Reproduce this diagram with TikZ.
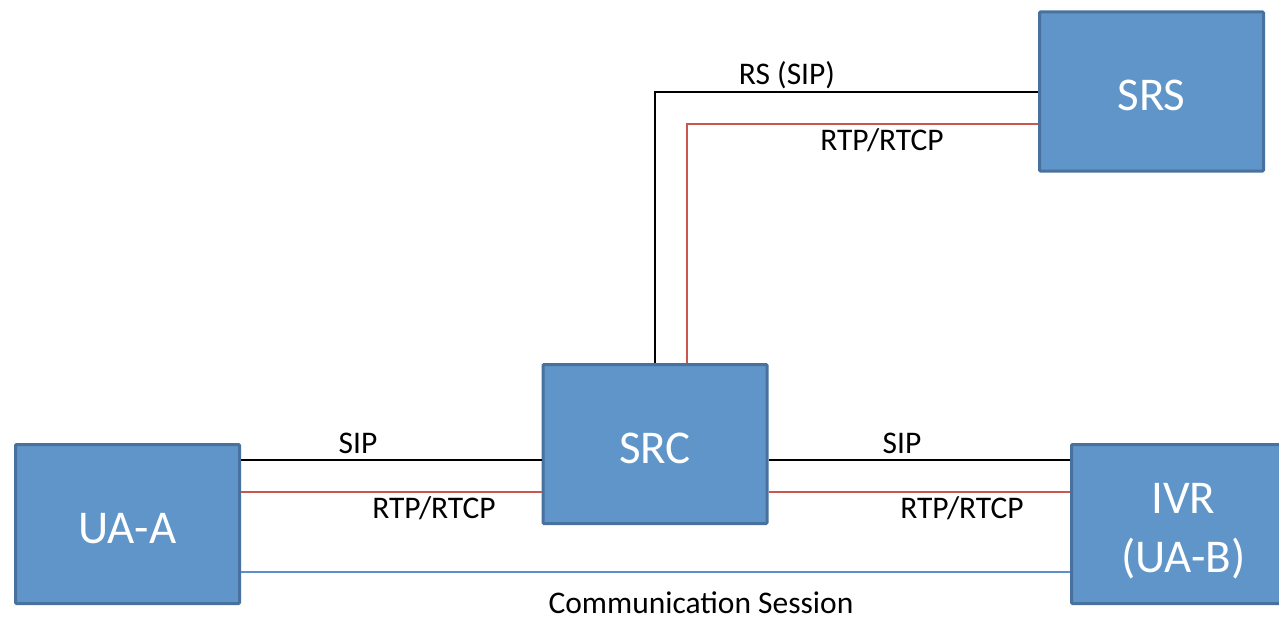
\documentclass[tikz,border=0pt]{standalone}
\usepackage{fontspec}
\setmainfont{Carlito}
\definecolor{boxFill}{RGB}{96,149,201}
\definecolor{boxLine}{RGB}{72,113,158}
\definecolor{rtpRed}{RGB}{204,85,80}
\definecolor{sessBlue}{RGB}{90,145,205}
\begin{document}
\begin{tikzpicture}[x=1pt, y=-1pt,
    boxStyle/.style={rectangle, draw=boxLine, fill=boxFill, line width=3pt, rounded corners=1pt,
        minimum width=224pt, minimum height=159pt, text=white, align=center,
        text height=38pt, text depth=0pt, font=\fontsize{47}{59}\selectfont},
    labelStyle/.style={font=\fontsize{31.5}{36}\selectfont, inner sep=0pt},
    sipLine/.style={black, line width=1.8pt},
    rtpLine/.style={rtpRed, line width=1.6pt},
    sessLine/.style={sessBlue, line width=1.8pt}]
    \useasboundingbox (0,0) rectangle (1279,618);

    \node[boxStyle](uaa) at (127.5, 524) {UA-A};
    \node[boxStyle](src) at (655, 444) {SRC};
    \node[boxStyle, text height=96pt](ivr) at (1183.5, 524) {IVR\\(UA-B)};
    \node[boxStyle](srs) at (1151.5, 91.5) {SRS};

    \coordinate (rsCorner) at (655, 92);
    \coordinate (rtpCorner) at (687, 124);

    \draw[sipLine] (uaa.east |- 0,460) -- (src.west |- 0,460);
    \draw[rtpLine] (uaa.east |- 0,492) -- (src.west |- 0,492);
    \draw[sipLine] (src.east |- 0,460) -- (ivr.west |- 0,460);
    \draw[rtpLine] (src.east |- 0,492) -- (ivr.west |- 0,492);
    \draw[sessLine] (uaa.east |- 0,572) -- (ivr.west |- 0,572);
    \draw[sipLine] (src.north -| rsCorner) -- (rsCorner) -- (srs.west |- rsCorner);
    \draw[rtpLine] (src.north -| rtpCorner) -- (rtpCorner) -- (srs.west |- rtpCorner);

    \node[labelStyle](sipA) at (358, 443) {SIP};
    \node[labelStyle](rtpA) at (434, 508) {RTP/RTCP};
    \node[labelStyle](sipB) at (902, 443) {SIP};
    \node[labelStyle](rtpB) at (962, 508) {RTP/RTCP};
    \node[labelStyle](rsSip) at (787, 75) {RS (SIP)};
    \node[labelStyle](rtpS) at (882, 140) {RTP/RTCP};
    \node[labelStyle](sess) at (701, 603) {Communication Session};
\end{tikzpicture}
\end{document}
